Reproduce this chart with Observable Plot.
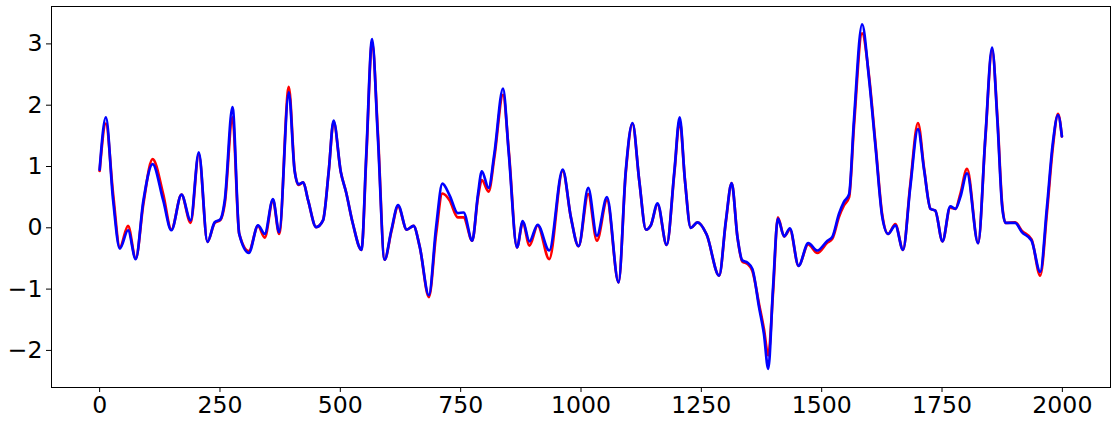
<!DOCTYPE html>
<html>
<head>
<meta charset="utf-8">
<script src="https://cdn.jsdelivr.net/npm/d3@7"></script>
<script src="https://cdn.jsdelivr.net/npm/@observablehq/plot@0.6"></script>
<style>
  html, body { margin: 0; padding: 0; background: #fff; }
</style>
</head>
<body>
<div id="chart"></div>
<script>
const xs = [0,13,28,42,59,75,91,110,132,149,170,189,206,224,239,251,260,276,290,310,329,343,360,373,393,405,413,423,433,450,464,476,486,501,512,526,544,554,566,578,592,606,620,638,652,665,684,699,712,727,744,756,774,786,794,808,820,838,850,867,879,893,910,934,962,979,995,1015,1033,1054,1078,1093,1107,1121,1135,1145,1159,1178,1194,1205,1216,1228,1242,1261,1287,1301,1313,1325,1335,1346,1356,1370,1380,1389,1399,1409,1422,1434,1452,1472,1491,1512,1522,1536,1546,1557,1567,1584,1598,1612,1626,1638,1653,1669,1684,1700,1713,1726,1736,1751,1767,1778,1788,1802,1825,1840,1854,1865,1875,1882,1902,1916,1936,1954,1968,1980,1991,1999];
const blueValues = [0.95,1.80,0.45,-0.34,-0.04,-0.51,0.45,1.04,0.45,-0.04,0.54,0.12,1.23,-0.23,0.09,0.14,0.45,1.97,-0.10,-0.41,0.04,-0.10,0.47,-0.07,2.21,0.93,0.71,0.74,0.45,0.01,0.12,0.93,1.75,0.91,0.58,0.07,-0.36,1.21,3.08,1.48,-0.52,-0.04,0.37,-0.03,0.03,-0.31,-1.10,0.01,0.72,0.53,0.24,0.25,-0.21,0.55,0.92,0.65,1.21,2.27,1.21,-0.32,0.11,-0.22,0.05,-0.37,0.95,0.17,-0.30,0.65,-0.13,0.50,-0.89,0.93,1.71,0.77,-0.03,0.04,0.40,-0.28,0.93,1.80,0.77,0.00,0.09,-0.11,-0.78,0.12,0.73,-0.15,-0.53,-0.57,-0.67,-1.30,-1.73,-2.30,-0.97,0.15,-0.14,-0.01,-0.62,-0.25,-0.37,-0.21,-0.15,0.23,0.42,0.55,1.75,3.32,2.46,1.31,0.17,-0.10,0.04,-0.36,0.66,1.61,0.93,0.31,0.28,-0.22,0.35,0.31,0.50,0.89,-0.25,1.48,2.94,1.75,0.34,0.08,0.08,-0.07,-0.21,-0.72,0.34,1.37,1.84,1.49];
const redValues = [0.93,1.70,0.55,-0.32,0.03,-0.50,0.40,1.12,0.55,-0.03,0.54,0.08,1.20,-0.23,0.08,0.13,0.40,1.80,-0.10,-0.38,0.03,-0.16,0.45,-0.10,2.30,0.95,0.70,0.74,0.45,0.01,0.12,0.93,1.73,0.91,0.58,0.07,-0.36,1.15,3.03,1.55,-0.52,-0.06,0.35,-0.03,0.03,-0.31,-1.13,-0.10,0.56,0.45,0.17,0.17,-0.21,0.50,0.78,0.59,1.15,2.17,1.25,-0.32,0.09,-0.29,0.04,-0.51,0.93,0.17,-0.30,0.55,-0.21,0.45,-0.89,0.90,1.70,0.77,-0.03,0.04,0.38,-0.28,0.90,1.75,0.77,0.00,0.09,-0.11,-0.78,0.10,0.73,-0.15,-0.55,-0.59,-0.70,-1.25,-1.65,-2.08,-1.05,0.17,-0.14,-0.03,-0.62,-0.27,-0.41,-0.24,-0.18,0.18,0.36,0.50,1.65,3.17,2.50,1.35,0.20,-0.10,0.06,-0.36,0.70,1.71,0.95,0.31,0.28,-0.22,0.33,0.31,0.55,0.96,-0.25,1.45,2.90,1.80,0.38,0.08,0.09,-0.05,-0.19,-0.78,0.25,1.30,1.86,1.49];
const xTicks = [0,250,500,750,1000,1250,1500,1750,2000];
const yTicks = [-2,-1,0,1,2,3];

const redData = xs.map((x, i) => ({x, y: redValues[i]}));
const blueData = xs.map((x, i) => ({x, y: blueValues[i]}));
const fmt = d => d < 0 ? "\u2212" + Math.abs(d) : String(d);

const chart = Plot.plot({
  width: 1117,
  height: 425,
  marginLeft: 51,
  marginRight: 7,
  marginTop: 6,
  marginBottom: 38,
  style: {fontFamily: "'DejaVu Sans', sans-serif", background: "#fff", color: "#000"},
  x: {domain: [-100, 2100]},
  y: {domain: [-2.605, 3.61]},
  marks: [
    Plot.line(redData, {x: "x", y: "y", stroke: "#ff0000", strokeWidth: 2.7, curve: "monotone-x"}),
    Plot.line(blueData, {x: "x", y: "y", stroke: "#0000ff", strokeWidth: 2.7, curve: "monotone-x"}),
    Plot.frame({stroke: "#000", strokeWidth: 1}),
    Plot.axisX(xTicks, {label: null, tickSize: 5, tickPadding: 4, fontSize: 23.6, tickFormat: d => String(d)}),
    Plot.axisY(yTicks, {label: null, tickSize: 5, tickPadding: 4, fontSize: 23.6, tickFormat: fmt})
  ]
});
document.getElementById("chart").appendChild(chart);
</script>
</body>
</html>
